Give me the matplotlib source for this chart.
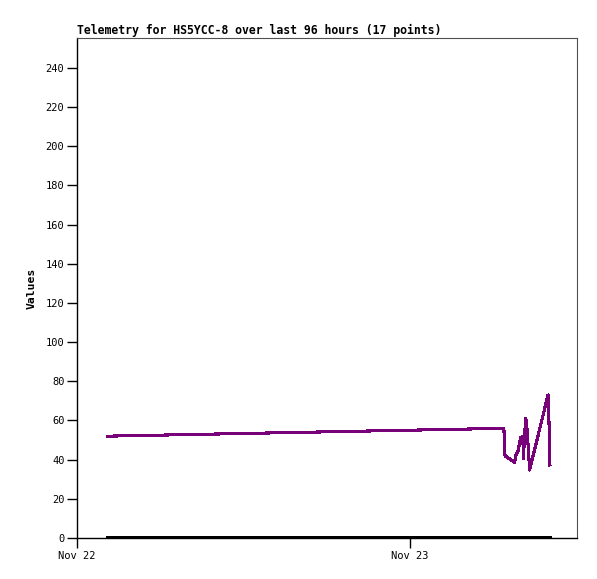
import datetime as dt
import matplotlib
matplotlib.use("Agg")
import matplotlib.pyplot as plt
import matplotlib.dates as mdates

# hours after Nov 22 00:00
hours = [2.23, 30.77, 30.85, 31.55, 31.66, 31.78, 31.98, 32.14, 32.17,
         32.34, 32.41, 32.63, 32.74, 33.95, 34.00, 34.07, 34.09]
values = [52.0, 56.0, 42.0, 38.6, 43.2, 44.1, 51.4, 51.8, 40.7,
          61.1, 58.6, 34.7, 38.1, 73.0, 64.5, 46.6, 37.3]
zeros = [0] * len(hours)

base = dt.datetime(2023, 11, 22)
times = [base + dt.timedelta(hours=h) for h in hours]

fig = plt.figure(figsize=(5.97, 5.79), dpi=100)
ax = fig.add_axes([77 / 597, 41 / 579, 500 / 597, 500 / 579])

ax.plot(times, zeros, color="black", lw=1.6, antialiased=False)
ax.plot(times, values, color="#780078", lw=1.5, antialiased=False)

ax.set_xlim(base, base + dt.timedelta(hours=36.04))
ax.set_ylim(0, 255.3)
ax.set_yticks(range(0, 241, 20))
ax.xaxis.set_major_locator(mdates.DayLocator())
ax.xaxis.set_major_formatter(mdates.DateFormatter("%b %d"))

for s in ["top", "right"]:
    ax.spines[s].set_color("#505050")
    ax.spines[s].set_linewidth(0.8)
for s in ["left", "bottom"]:
    ax.spines[s].set_linewidth(1.0)

ax.tick_params(length=7, width=1, labelsize=7.5)
ax.tick_params(axis="y", pad=2)
ax.tick_params(axis="x", pad=2.5)
for lab in ax.get_xticklabels() + ax.get_yticklabels():
    lab.set_family("DejaVu Sans Mono")

ax.set_ylabel("Values", family="DejaVu Sans Mono", fontweight="bold", fontsize=8.2)
ax.yaxis.set_label_coords(-0.08, 0.5)
fig.text(77 / 597, 1 - 30 / 579, "Telemetry for HS5YCC-8 over last 96 hours (17 points)",
         family="DejaVu Sans Mono", fontweight="bold", fontsize=8.3,
         va="center", ha="left")

fig.savefig("out.png", dpi=100)
